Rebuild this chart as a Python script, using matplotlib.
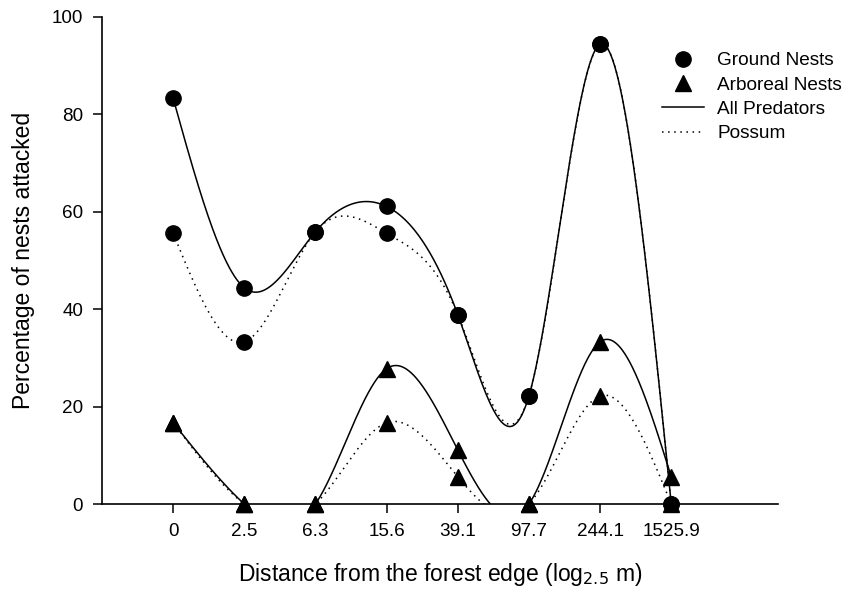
import numpy as np
import matplotlib
matplotlib.use("Agg")
import matplotlib.pyplot as plt
from matplotlib.lines import Line2D

plt.rcParams['font.family'] = ['Liberation Sans', 'DejaVu Sans']

distance_labels = ["0", "2.5", "6.3", "15.6", "39.1", "97.7", "244.1", "1525.9"]
ground_all = [83.3, 44.4, 55.9, 61.1, 38.9, 22.2, 94.4, 0.0]
ground_possum = [55.6, 33.3, 55.9, 55.6, 38.9, 22.2, 94.4, 0.0]
arboreal_all = [16.7, 0.0, 0.0, 27.8, 11.1, 0.0, 33.3, 5.6]
arboreal_possum = [16.7, 0.0, 0.0, 16.7, 5.6, 0.0, 22.2, 0.0]


def natural_spline(x, y, xs):
    x = np.asarray(x, float)
    y = np.asarray(y, float)
    n = len(x)
    h = np.diff(x)
    A = np.zeros((n, n))
    b = np.zeros(n)
    A[0, 0] = 1
    A[-1, -1] = 1
    for i in range(1, n - 1):
        A[i, i - 1] = h[i - 1]
        A[i, i] = 2 * (h[i - 1] + h[i])
        A[i, i + 1] = h[i]
        b[i] = 6 * ((y[i + 1] - y[i]) / h[i] - (y[i] - y[i - 1]) / h[i - 1])
    M = np.linalg.solve(A, b)
    idx = np.clip(np.searchsorted(x, xs) - 1, 0, n - 2)
    x0 = x[idx]; x1 = x[idx + 1]; hh = x1 - x0
    t0 = x1 - xs; t1 = xs - x0
    return (M[idx] * t0**3 / (6 * hh) + M[idx + 1] * t1**3 / (6 * hh)
            + (y[idx] / hh - M[idx] * hh / 6) * t0
            + (y[idx + 1] / hh - M[idx + 1] * hh / 6) * t1)


pos = np.arange(len(distance_labels))
xs = np.linspace(0, len(pos) - 1, 800)

fig = plt.figure(figsize=(8.45, 5.92), dpi=100)
ax = fig.add_axes([0.1207, 0.1486, 0.8, 0.8227])

for series, ls in [(ground_all, '-'), (ground_possum, (0, (1, 3))),
                   (arboreal_all, '-'), (arboreal_possum, (0, (1, 3)))]:
    ax.plot(xs, natural_spline(pos, series, xs), color='black', lw=1.1, linestyle=ls)

ms = 11
for series in [ground_all, ground_possum]:
    ax.plot(pos, series, 'o', color='black', ms=ms, clip_on=False, zorder=5)
for series in [arboreal_all, arboreal_possum]:
    ax.plot(pos, series, '^', color='black', ms=ms, clip_on=False, zorder=5)

ax.set_xlim(-1, 8.5)
ax.set_ylim(0, 100)
ax.set_xticks(pos)
ax.set_xticklabels(distance_labels)
ax.set_yticks([0, 20, 40, 60, 80, 100])
for s in ['top', 'right']:
    ax.spines[s].set_visible(False)
for s in ['left', 'bottom']:
    ax.spines[s].set_linewidth(1.2)
ax.tick_params(axis='both', labelsize=13.6, length=6.5, width=1.1, direction='out', pad=7)

ax.set_xlabel(r"Distance from the forest edge (log$_{2.5}$ m)", fontsize=16.5, labelpad=15)
ax.set_ylabel("Percentage of nests attacked", fontsize=16.5, labelpad=12)

handles = [Line2D([], [], marker='o', color='black', ls='none', ms=ms),
           Line2D([], [], marker='^', color='black', ls='none', ms=ms),
           Line2D([], [], color='black', lw=1.1),
           Line2D([], [], color='black', lw=1.1, linestyle=(0, (1, 3)))]
labels = ["Ground Nests", "Arboreal Nests", "All Predators", "Possum"]
fig.legend(handles, labels, loc='upper left', bbox_to_anchor=(662 / 845, 1 - 52 / 592),
           frameon=False, fontsize=13.7, handlelength=2.2, handletextpad=0.7,
           labelspacing=0.37, borderpad=0, borderaxespad=0)

fig.savefig("out.png", dpi=100)
